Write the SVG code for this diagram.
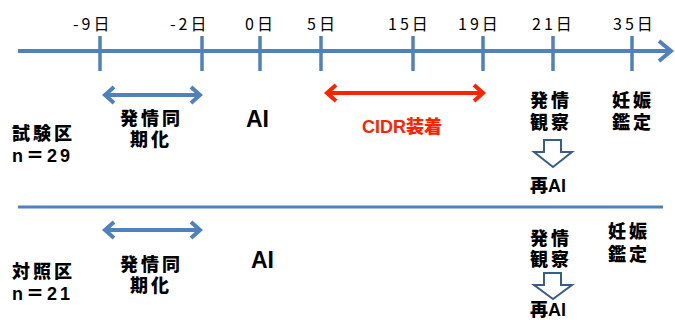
<svg xmlns="http://www.w3.org/2000/svg" width="675" height="334" viewBox="0 0 675 334">
<style>
.ax{stroke:#4F81BD;stroke-width:4;fill:none}
.tk{stroke:#4F81BD;stroke-width:3.5}
.day{font-family:"Noto Sans CJK JP","Liberation Sans",sans-serif;font-size:16px;letter-spacing:3px;fill:#000}
.b{font-family:"Liberation Sans","Noto Sans CJK JP",sans-serif;font-weight:900;font-size:18px;letter-spacing:3px;fill:#000}
.ai{font-family:"Liberation Sans",sans-serif;font-weight:bold;font-size:23px;fill:#000}
.red{fill:#FF2200}
.dbl{stroke:#4F81BD;stroke-width:4;fill:none}
.dblr{stroke:#FF2200;stroke-width:4;fill:none}
.hol{fill:#fff;stroke:#385D8A;stroke-width:2}
</style>
<g id="connectors">
  <line class="ax" x1="18" y1="51" x2="671" y2="51"/>
  <polyline class="ax" points="659,41 671,51 659,61"/>
  <line class="tk" x1="100" y1="36" x2="100" y2="71"/>
  <line class="tk" x1="202" y1="36" x2="202" y2="71"/>
  <line class="tk" x1="260" y1="36" x2="260" y2="71"/>
  <line class="tk" x1="321" y1="36" x2="321" y2="71"/>
  <line class="tk" x1="413" y1="36" x2="413" y2="71"/>
  <line class="tk" x1="483" y1="36" x2="483" y2="71"/>
  <line class="tk" x1="553" y1="36" x2="553" y2="71"/>
  <line class="tk" x1="632" y1="36" x2="632" y2="71"/>
  <line x1="18" y1="207" x2="663" y2="207" stroke="#4F81BD" stroke-width="3"/>
  <g class="dbl">
    <line x1="105" y1="95" x2="200" y2="95"/>
    <polyline points="114,87 105,95 114,103"/>
    <polyline points="191,87 200,95 191,103"/>
    <line x1="105" y1="230" x2="200" y2="230"/>
    <polyline points="114,222 105,230 114,238"/>
    <polyline points="191,222 200,230 191,238"/>
  </g>
  <g class="dblr">
    <line x1="327" y1="93" x2="483" y2="93"/>
    <polyline points="336,85 327,93 336,101"/>
    <polyline points="474,85 483,93 474,101"/>
  </g>
  <path class="hol" d="M544,140 H561 V152 H572 L553,167 L534,152 H544 Z"/>
  <path class="hol" d="M544,273 H561 V285 H572 L553,299 L534,285 H544 Z"/>
</g>
<g id="days">
  <text class="day" x="73" y="30">-9日</text>
  <text class="day" x="170" y="30">-2日</text>
  <text class="day" x="245" y="30">0日</text>
  <text class="day" x="307" y="30">5日</text>
  <text class="day" x="388" y="30">15日</text>
  <text class="day" x="458" y="30">19日</text>
  <text class="day" x="532" y="30">21日</text>
  <text class="day" x="613" y="30">35日</text>
</g>
<g id="group1">
  <text class="b" x="12" y="140">試験区</text>
  <text class="b" x="12" y="162">n＝29</text>
</g>
<g id="sync1">
  <text class="b" x="120" y="125">発情同</text>
  <text class="b" x="130" y="146">期化</text>
</g>
<g id="ai1"><text class="ai" x="246" y="127">AI</text></g>
<g id="cidr"><text class="b red" x="362" y="133" style="letter-spacing:0">CIDR装着</text></g>
<g id="obs1">
  <text class="b" x="530" y="107">発情</text>
  <text class="b" x="530" y="129">観察</text>
</g>
<g id="preg1">
  <text class="b" x="612" y="107">妊娠</text>
  <text class="b" x="612" y="129">鑑定</text>
</g>
<g id="reai1"><text class="b" x="530" y="192" style="letter-spacing:0">再AI</text></g>
<g id="group2">
  <text class="b" x="12" y="278">対照区</text>
  <text class="b" x="12" y="300">n＝21</text>
</g>
<g id="sync2">
  <text class="b" x="120" y="271">発情同</text>
  <text class="b" x="130" y="292">期化</text>
</g>
<g id="ai2"><text class="ai" x="251" y="268">AI</text></g>
<g id="obs2">
  <text class="b" x="530" y="245">発情</text>
  <text class="b" x="530" y="266">観察</text>
</g>
<g id="preg2">
  <text class="b" x="608" y="238">妊娠</text>
  <text class="b" x="608" y="261">鑑定</text>
</g>
<g id="reai2"><text class="b" x="530" y="316" style="letter-spacing:0">再AI</text></g>
</svg>
